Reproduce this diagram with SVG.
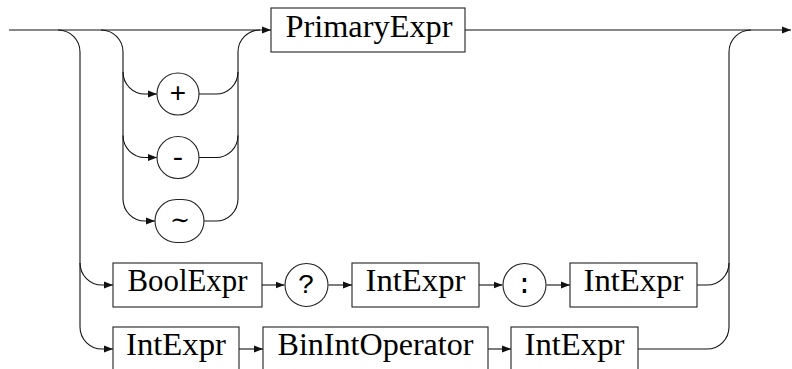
<svg xmlns="http://www.w3.org/2000/svg" width="792" height="369" viewBox="0 0 792 369">
<defs>
<marker id="arr" markerUnits="userSpaceOnUse" markerWidth="9" markerHeight="8" refX="9" refY="4" orient="auto">
<path d="M0,0.5 L9,4 L0,7.5 z" fill="#111"/>
</marker>
</defs>
<rect width="792" height="369" fill="#fff"/>
<g id="connectors" fill="none" stroke="#111" stroke-width="1.1">
<path marker-end="url(#arr)" d="M9,30 H271"/>
<path marker-end="url(#arr)" d="M465,30 H791"/>
<path marker-end="url(#arr)" d="M58,30 A22,22 0 0 1 80,52 V327 A22,22 0 0 0 102,349 H113"/>
<path marker-end="url(#arr)" d="M80,263 A22,22 0 0 0 102,285 H113"/>
<path marker-end="url(#arr)" d="M101,30 A22,22 0 0 1 123,52 V199 A22,22 0 0 0 145,221 H155"/>
<path marker-end="url(#arr)" d="M123,72 A22,22 0 0 0 145,94 H157"/>
<path marker-end="url(#arr)" d="M123,135.5 A22,22 0 0 0 145,157.5 H157"/>
<path d="M199,94 H216 A22,22 0 0 0 238,72 V52 A22,22 0 0 1 260,30"/>
<path d="M199,157.5 H216 A22,22 0 0 0 238,135.5"/>
<path d="M204,221 H216 A22,22 0 0 0 238,199 V72"/>
<path marker-end="url(#arr)" d="M262,285 H284.5"/>
<path marker-end="url(#arr)" d="M328.5,285 H352"/>
<path marker-end="url(#arr)" d="M479,285 H502.5"/>
<path marker-end="url(#arr)" d="M546.5,285 H570"/>
<path d="M697,285 H707 A22,22 0 0 0 729,263 V52 A22,22 0 0 1 751,30"/>
<path marker-end="url(#arr)" d="M239,349 H263"/>
<path marker-end="url(#arr)" d="M488,349 H511"/>
<path d="M638,349 H707 A22,22 0 0 0 729,327 V263"/>
</g>
<g id="primaryexpr">
<rect x="271" y="8" width="194" height="44" fill="#fff" stroke="#222" stroke-width="1.1"/>
<text x="369" y="36.5" style="font-family:'Liberation Serif',serif;font-size:31px" text-anchor="middle" textLength="167" lengthAdjust="spacingAndGlyphs">PrimaryExpr</text>
</g>
<g id="plus">
<circle cx="178" cy="94" r="21" fill="#fff" stroke="#222" stroke-width="1.1"/>
<text x="178" y="102" style="font-family:'Liberation Mono',monospace;font-size:28px" text-anchor="middle">+</text>
</g>
<g id="minus">
<circle cx="178" cy="157.5" r="21" fill="#fff" stroke="#222" stroke-width="1.1"/>
<text x="178" y="166" style="font-family:'Liberation Mono',monospace;font-size:28px" text-anchor="middle">-</text>
</g>
<g id="tilde">
<rect x="155" y="199.5" width="49" height="43" rx="21.5" ry="21.5" fill="#fff" stroke="#222" stroke-width="1.1"/>
<text x="180" y="228" style="font-family:'DejaVu Serif',serif;font-size:24px" text-anchor="middle">∼</text>
</g>
<g id="boolexpr">
<rect x="113" y="263" width="149" height="44" fill="#fff" stroke="#222" stroke-width="1.1"/>
<text x="187.5" y="291" style="font-family:'Liberation Serif',serif;font-size:31px" text-anchor="middle" textLength="120" lengthAdjust="spacingAndGlyphs">BoolExpr</text>
</g>
<g id="question">
<circle cx="306.5" cy="285" r="21.5" fill="#fff" stroke="#222" stroke-width="1.1"/>
<text x="306.5" y="293" style="font-family:'Liberation Mono',monospace;font-size:28px" text-anchor="middle">?</text>
</g>
<g id="intexpr1">
<rect x="352" y="263" width="127" height="44" fill="#fff" stroke="#222" stroke-width="1.1"/>
<text x="415.5" y="291" style="font-family:'Liberation Serif',serif;font-size:31px" text-anchor="middle" textLength="100" lengthAdjust="spacingAndGlyphs">IntExpr</text>
</g>
<g id="colon">
<circle cx="524.5" cy="285" r="21.5" fill="#fff" stroke="#222" stroke-width="1.1"/>
<text x="524.5" y="293" style="font-family:'Liberation Mono',monospace;font-size:28px" text-anchor="middle">:</text>
</g>
<g id="intexpr2">
<rect x="570" y="263" width="127" height="44" fill="#fff" stroke="#222" stroke-width="1.1"/>
<text x="633.5" y="291" style="font-family:'Liberation Serif',serif;font-size:31px" text-anchor="middle" textLength="100" lengthAdjust="spacingAndGlyphs">IntExpr</text>
</g>
<g id="intexpr3">
<rect x="113" y="327" width="126" height="44" fill="#fff" stroke="#222" stroke-width="1.1"/>
<text x="176" y="355" style="font-family:'Liberation Serif',serif;font-size:31px" text-anchor="middle" textLength="100" lengthAdjust="spacingAndGlyphs">IntExpr</text>
</g>
<g id="binintoperator">
<rect x="263" y="327" width="225" height="44" fill="#fff" stroke="#222" stroke-width="1.1"/>
<text x="375.5" y="355" style="font-family:'Liberation Serif',serif;font-size:31px" text-anchor="middle" textLength="196" lengthAdjust="spacingAndGlyphs">BinIntOperator</text>
</g>
<g id="intexpr4">
<rect x="511" y="327" width="127" height="44" fill="#fff" stroke="#222" stroke-width="1.1"/>
<text x="574.5" y="355" style="font-family:'Liberation Serif',serif;font-size:31px" text-anchor="middle" textLength="100" lengthAdjust="spacingAndGlyphs">IntExpr</text>
</g>
</svg>
